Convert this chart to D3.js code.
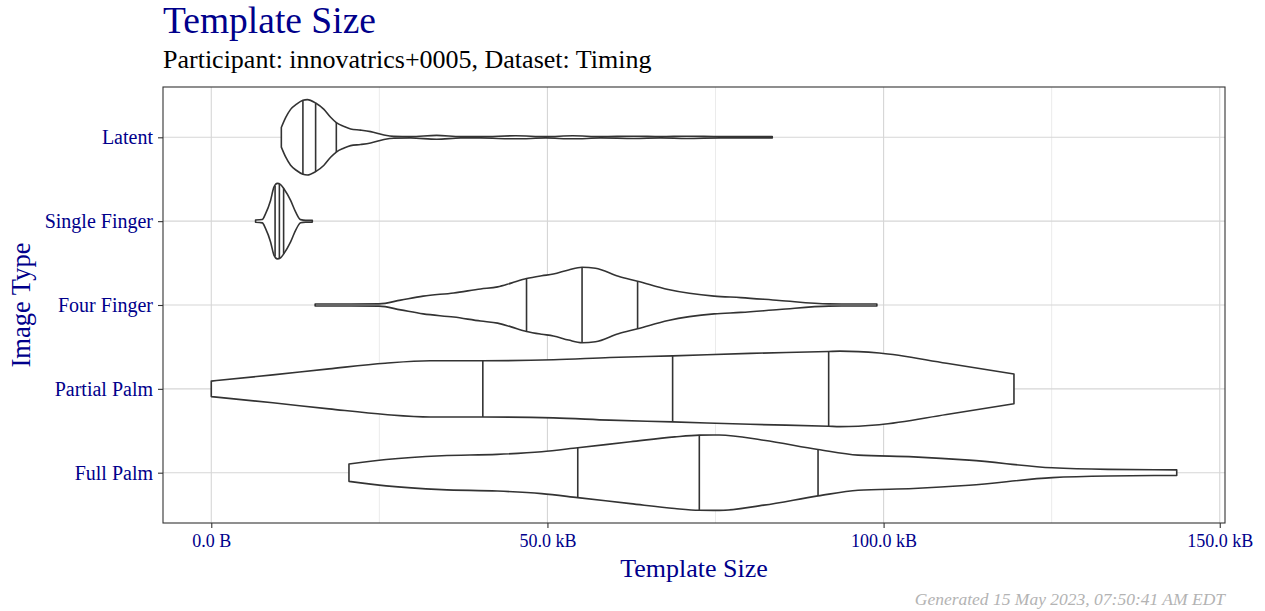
<!DOCTYPE html>
<html>
<head>
<meta charset="utf-8">
<script src="https://cdn.jsdelivr.net/npm/d3@7"></script>
<style>
  body { margin: 0; background: #fff; }
  svg { display: block; }
</style>
</head>
<body>
<svg id="chart"></svg>
<script>
// chart data (sizes in kB, density relative to the widest point)

const categories = ['Latent', 'Single Finger', 'Four Finger', 'Partial Palm', 'Full Palm'];

const latentSize = [10.42, 11.06, 11.80, 12.69, 13.63, 14.29, 15.52, 16.76, 17.75, 18.60, 19.69, 20.73, 22.21, 23.70, 25.68, 27.17, 29.66, 33.53, 37.10, 40.07, 45.28, 49.75, 53.76, 57.93, 62.84, 66.86, 70.73, 75.79, 83.44];
const latentDens = [0.26, 0.52, 0.74, 0.88, 0.98, 1.0, 0.91, 0.74, 0.53, 0.39, 0.29, 0.22, 0.19, 0.15, 0.06, 0.026, 0.02, 0.05, 0.02, 0.02, 0.04, 0.02, 0.04, 0.02, 0.03, 0.02, 0.03, 0.02, 0.02];
const latentQuant = [13.63, 15.52, 18.60];

const singleSize = [6.59, 7.59, 8.08, 8.82, 9.32, 9.82, 10.31, 10.80, 11.80, 12.54, 13.29, 14.03, 15.03];
const singleDens = [0.03, 0.045, 0.2, 0.55, 0.9, 1.0, 0.97, 0.86, 0.55, 0.245, 0.04, 0.025, 0.025];
const singleQuant = [9.49, 10.13, 10.76];

const fourSize = [15.45, 20.73, 24.97, 28.17, 31.52, 36.06, 40.07, 42.60, 44.61, 46.89, 49.15, 50.88, 53.15, 55.15, 57.14, 60.55, 63.41, 67.96, 74.79, 78.76, 84.48, 91.86, 99.0];
const fourDens = [0.026, 0.026, 0.03, 0.13, 0.235, 0.32, 0.425, 0.48, 0.58, 0.70, 0.775, 0.82, 0.93, 1.0, 0.975, 0.76, 0.63, 0.41, 0.235, 0.196, 0.12, 0.03, 0.026];
const fourQuant = [46.89, 55.15, 63.41];

const partialSize = [0.0, 9.15, 17.51, 25.86, 32.54, 40.39, 50.91, 59.27, 68.62, 80.13, 91.83, 93.5, 99.35, 109.36, 119.39];
const partialDens = [0.205, 0.37, 0.53, 0.68, 0.745, 0.745, 0.77, 0.83, 0.875, 0.94, 0.99, 1.0, 0.95, 0.68, 0.395];
const partialQuant = [40.39, 68.62, 91.83];

const fullSize = [20.48, 26.01, 34.27, 42.53, 49.14, 54.51, 62.35, 68.94, 72.59, 75.57, 82.17, 90.25, 96.21, 104.46, 112.72, 125.10, 133.38, 143.6];
const fullDens = [0.23, 0.35, 0.45, 0.485, 0.555, 0.66, 0.82, 0.95, 0.995, 1.0, 0.86, 0.615, 0.465, 0.42, 0.333, 0.13, 0.087, 0.074];
const fullQuant = [54.51, 72.59, 90.25];

const majorTicks = [0, 50000, 100000, 150000];
const minorTicks = [25000, 75000, 125000];

const titleText = 'Template Size';
const subtitleText = 'Participant: innovatrics+0005, Dataset: Timing';
const xTitle = 'Template Size';
const yTitle = 'Image Type';
const captionText = 'Generated 15 May 2023, 07:50:41 AM EDT';

// LAYOUT

const width = 1265;
const height = 611;
const panel = {left: 163, right: 1225, top: 87, bottom: 523};
const blue = '#00008B';
const font = '"Liberation Serif", "Times New Roman", serif';

const violins = [
    {size: latentSize, dens: latentDens, quant: latentQuant},
    {size: singleSize, dens: singleDens, quant: singleQuant},
    {size: fourSize, dens: fourDens, quant: fourQuant},
    {size: partialSize, dens: partialDens, quant: partialQuant},
    {size: fullSize, dens: fullDens, quant: fullQuant}
];

// ggplot style 5% expansion on the x range
let allSizes = [].concat(...violins.map(v => v.size)).map(s => s * 1000);
let xMin = d3.min(allSizes), xMax = d3.max(allSizes);
let pad = (xMax - xMin) * 0.05;

const x = d3.scaleLinear()
    .domain([xMin - pad, xMax + pad])
    .range([panel.left, panel.right]);

const y = d3.scaleLinear()
    .domain([-0.6, categories.length - 1 + 0.6])
    .range([panel.top, panel.bottom]);

const halfWidth = y(0.45) - y(0);

function fmtBytes(v) {
    if (v < 1000) return v.toFixed(1) + ' B';
    return (v / 1000).toFixed(1) + ' kB';
}

const svg = d3.select('#chart')
    .attr('width', width)
    .attr('height', height)
    .style('font-family', font);

// grid
svg.append('g').selectAll('line')
    .data(minorTicks)
    .join('line')
    .attr('x1', d => x(d)).attr('x2', d => x(d))
    .attr('y1', panel.top).attr('y2', panel.bottom)
    .attr('stroke', '#ebebeb').attr('stroke-width', 1);

svg.append('g').selectAll('line')
    .data(majorTicks)
    .join('line')
    .attr('x1', d => x(d)).attr('x2', d => x(d))
    .attr('y1', panel.top).attr('y2', panel.bottom)
    .attr('stroke', '#d6d6d6').attr('stroke-width', 1.1);

svg.append('g').selectAll('line')
    .data(categories)
    .join('line')
    .attr('x1', panel.left).attr('x2', panel.right)
    .attr('y1', (d, i) => y(i)).attr('y2', (d, i) => y(i))
    .attr('stroke', '#d6d6d6').attr('stroke-width', 1.1);

// violins
violins.forEach(function(v, i) {
    let pts = v.size.map((s, j) => [s * 1000, v.dens[j]]);
    let cy = y(i);

    let area = d3.area()
        .x(d => x(d[0]))
        .y0(d => cy - d[1] * halfWidth)
        .y1(d => cy + d[1] * halfWidth)
        .curve(d3.curveMonotoneX);

    svg.append('path')
        .attr('d', area(pts))
        .attr('fill', '#fff')
        .attr('stroke', '#333')
        .attr('stroke-width', 1.6)
        .attr('stroke-linejoin', 'round');

    // quantile lines, width taken from the density at that size
    let widthAt = d3.scaleLinear().domain(v.size).range(v.dens);
    v.quant.forEach(function(q) {
        let w = widthAt(q) * halfWidth;
        svg.append('line')
            .attr('x1', x(q * 1000)).attr('x2', x(q * 1000))
            .attr('y1', cy - w).attr('y2', cy + w)
            .attr('stroke', '#333')
            .attr('stroke-width', 1.6);
    });
});

// panel border
svg.append('rect')
    .attr('x', panel.left).attr('y', panel.top)
    .attr('width', panel.right - panel.left)
    .attr('height', panel.bottom - panel.top)
    .attr('fill', 'none')
    .attr('stroke', '#333')
    .attr('stroke-width', 1.1);

// axes
const xAxis = svg.append('g')
    .attr('transform', `translate(0,${panel.bottom})`)
    .call(d3.axisBottom(x).tickValues(majorTicks).tickFormat(fmtBytes).tickSize(5).tickPadding(6));

const yAxis = svg.append('g')
    .attr('transform', `translate(${panel.left},0)`)
    .call(d3.axisLeft(d3.scaleOrdinal().domain(categories).range(categories.map((c, i) => y(i))))
        .tickSize(5).tickPadding(5));

[xAxis, yAxis].forEach(function(ax) {
    ax.select('.domain').remove();
    ax.selectAll('.tick line').attr('stroke', '#333').attr('stroke-width', 1.1);
    ax.selectAll('.tick text')
        .attr('fill', blue)
        .style('font-family', font)
        .style('font-size', '18px');
});
yAxis.selectAll('.tick text').attr('dy', '0.33em').style('font-size', '20px');

// titles
svg.append('text')
    .attr('x', panel.left).attr('y', 33)
    .attr('fill', blue)
    .style('font-size', '37.5px')
    .text(titleText);

svg.append('text')
    .attr('x', panel.left).attr('y', 68)
    .attr('fill', '#000')
    .style('font-size', '26px')
    .text(subtitleText);

svg.append('text')
    .attr('x', (panel.left + panel.right) / 2).attr('y', 577)
    .attr('text-anchor', 'middle')
    .attr('fill', blue)
    .style('font-size', '26px')
    .text(xTitle);

svg.append('text')
    .attr('transform', `translate(30,${(panel.top + panel.bottom) / 2}) rotate(-90)`)
    .attr('text-anchor', 'middle')
    .attr('fill', blue)
    .style('font-size', '26.5px')
    .text(yTitle);

svg.append('text')
    .attr('x', panel.right).attr('y', 605)
    .attr('text-anchor', 'end')
    .attr('fill', '#b3b3b3')
    .style('font-style', 'italic')
    .style('font-size', '17.5px')
    .text(captionText);
</script>
</body>
</html>
